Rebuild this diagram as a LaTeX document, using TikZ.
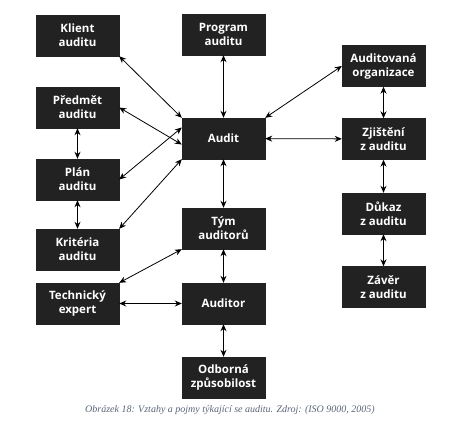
\documentclass[tikz,border=0pt]{standalone}
\usepackage{fontspec}
\setmainfont{Open Sans}
\newfontfamily\capfont{Liberation Serif}
\usetikzlibrary{arrows.meta}
\definecolor{boxfill}{HTML}{222222}
\definecolor{capcol}{HTML}{5A6478}
\begin{document}
\begin{tikzpicture}[x=1pt,y=-1pt,
  box/.style={rectangle, fill=boxfill, draw=boxfill, minimum width=83pt, minimum height=41pt,
    inner sep=0pt, text=white, font=\fontsize{11.5}{14}\selectfont\bfseries, align=center},
  link/.style={draw=black, line width=0.8pt, {Stealth[length=7pt,width=6pt]}-{Stealth[length=7pt,width=6pt]}}]
\useasboundingbox (0,0) rectangle (459,432);
% left column
\node[box] (klient) at (77.5,35.5) {Klient\\auditu};
\node[box] (predmet) at (77.5,107.5) {Předmět\\auditu};
\node[box] (plan) at (77.5,179.5) {Plán\\auditu};
\node[box] (kriteria) at (77.5,249.5) {Kritéria\\auditu};
\node[box] (tech) at (77.5,303.5) {Technický\\expert};
% middle column
\node[box] (program) at (223.5,34.5) {Program\\auditu};
\node[box] (audit) at (223.5,138.5) {Audit};
\node[box] (tym) at (223.5,228.5) {Tým\\auditorů};
\node[box] (auditor) at (223.5,303.5) {Auditor};
\node[box] (odborna) at (223.5,377.5) {Odborná\\způsobilost};
% right column
\node[box] (organizace) at (383.5,66) {Auditovaná\\organizace};
\node[box] (zjisteni) at (383.5,139) {Zjištění\\z auditu};
\node[box] (dukaz) at (383.5,213.5) {Důkaz\\z auditu};
\node[box] (zaver) at (383.5,287) {Závěr\\z auditu};
% connectors
\draw[link] (klient.south east) -- (audit.north west);
\draw[link] (program) -- (audit);
\draw[link] (predmet.east) -- ([yshift=-6pt]audit.west);
\draw[link] (predmet) -- (plan);
\draw[link] (plan.east) -- ([yshift=11pt]audit.west);
\draw[link] (plan) -- (kriteria);
\draw[link] (kriteria.north east) -- (audit.south west);
\draw[link] (audit) -- (tym);
\draw[link] (tym.south west) -- (tech.north east);
\draw[link] (tech) -- (auditor);
\draw[link] (tym) -- (auditor);
\draw[link] (auditor) -- (odborna);
\draw[link] (audit.north east) -- (organizace.west);
\draw[link] (audit) -- (zjisteni);
\draw[link] (organizace) -- (zjisteni);
\draw[link] (zjisteni) -- (dukaz);
\draw[link] (dukaz) -- (zaver);
% caption
\node[font=\capfont\itshape\fontsize{10}{12}\selectfont, text=capcol] (caption) at (230,410) {Obrázek 18: Vztahy a pojmy týkající se auditu. Zdroj: (ISO 9000, 2005)};
\end{tikzpicture}
\end{document}
